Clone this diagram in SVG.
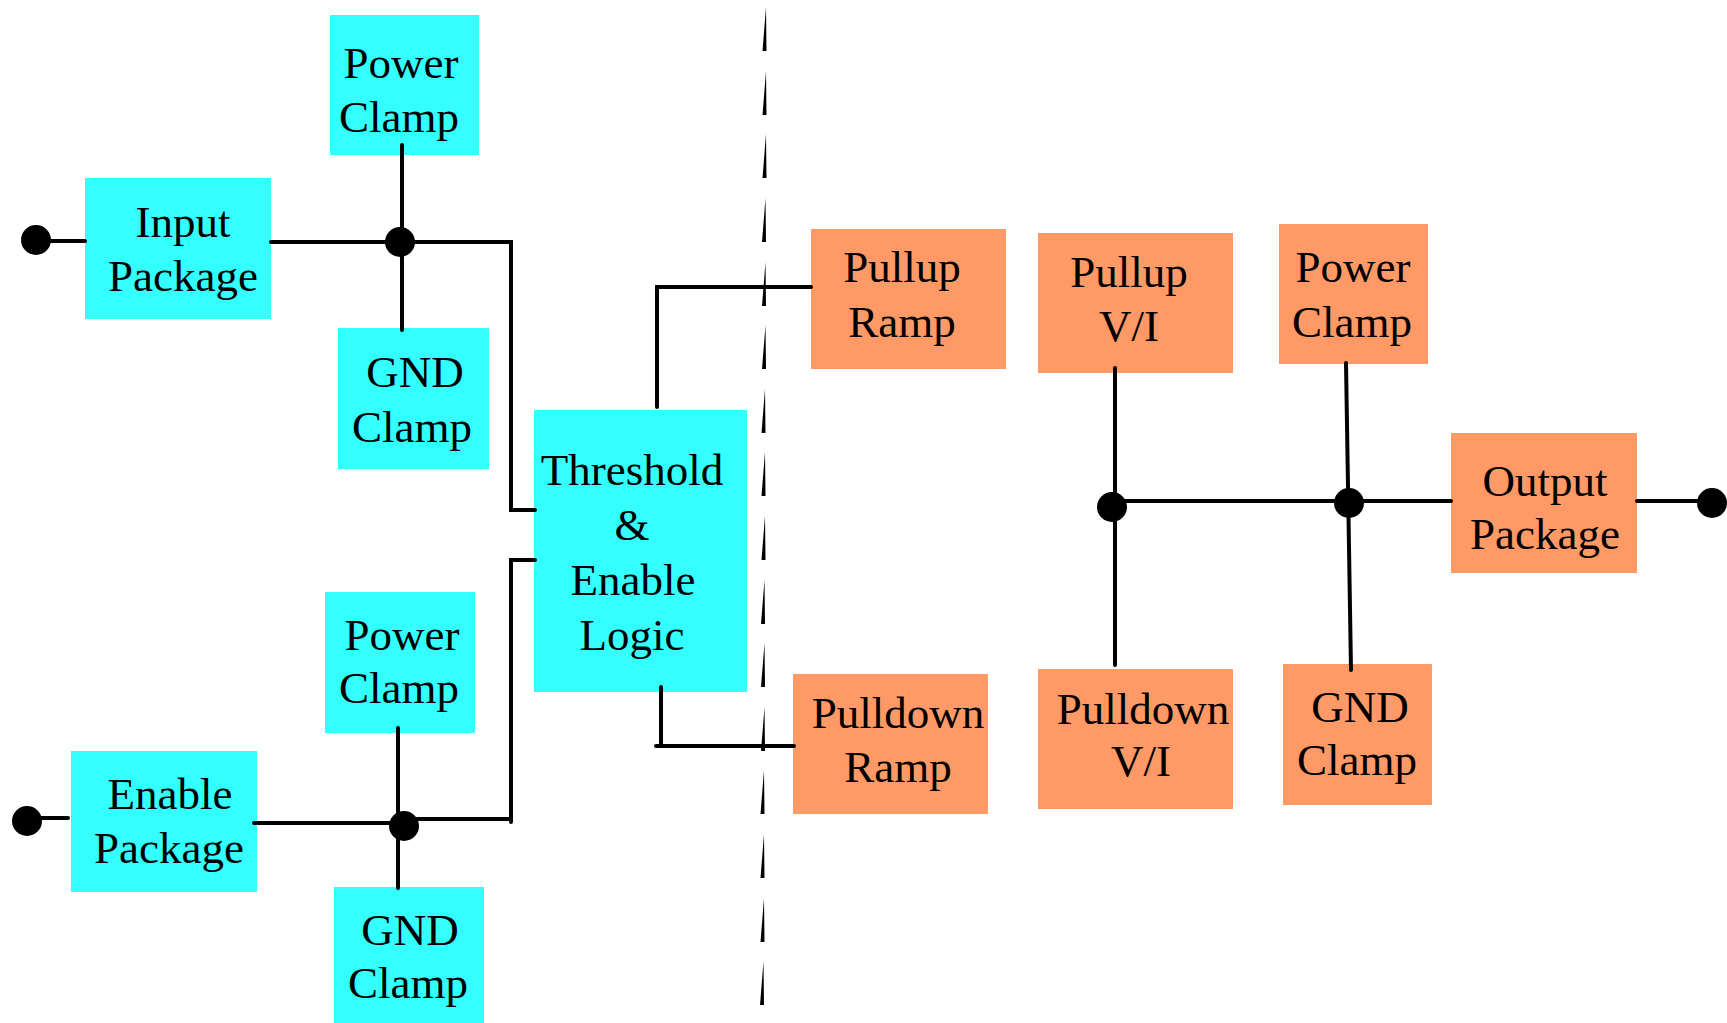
<svg xmlns="http://www.w3.org/2000/svg" width="1727" height="1023" viewBox="0 0 1727 1023">
<style>
.c{fill:#33FFFF}
.o{fill:#FF9966}
text{font-family:"Liberation Serif","Times New Roman",serif;font-size:45px;fill:#000;text-anchor:middle}
.w{stroke:#000;stroke-width:4;fill:none;stroke-linecap:round;stroke-linejoin:miter}
.d{fill:#000}
</style>
<rect width="1727" height="1023" fill="#fff"/>
<g id="pc1"><rect class="c" x="330" y="15" width="149" height="140"/><text x="401" y="78">Power</text><text x="399" y="132">Clamp</text></g>
<g id="ip"><rect class="c" x="85" y="178" width="186" height="141"/><text x="183" y="237">Input</text><text x="183" y="291">Package</text></g>
<g id="gc1"><rect class="c" x="338" y="328" width="151" height="141"/><text x="415" y="387">GND</text><text x="412" y="442">Clamp</text></g>
<g id="th"><rect class="c" x="534" y="410" width="213" height="282"/><text x="632" y="485">Threshold</text><text x="632" y="540">&amp;</text><text x="633" y="595">Enable</text><text x="632" y="650">Logic</text></g>
<g id="pc2"><rect class="c" x="325" y="592" width="150" height="141"/><text x="402" y="650">Power</text><text x="399" y="703">Clamp</text></g>
<g id="ep"><rect class="c" x="71" y="751" width="186" height="141"/><text x="170" y="809">Enable</text><text x="169" y="863">Package</text></g>
<g id="gc2"><rect class="c" x="334" y="887" width="150" height="136"/><text x="410" y="945">GND</text><text x="408" y="998">Clamp</text></g>
<g id="pr"><rect class="o" x="811" y="229" width="195" height="140"/><text x="902" y="282">Pullup</text><text x="902" y="337">Ramp</text></g>
<g id="pvi"><rect class="o" x="1038" y="233" width="195" height="140"/><text x="1129" y="287">Pullup</text><text x="1129" y="341">V/I</text></g>
<g id="pc3"><rect class="o" x="1279" y="224" width="149" height="140"/><text x="1353" y="282">Power</text><text x="1352" y="337">Clamp</text></g>
<g id="op"><rect class="o" x="1451" y="433" width="186" height="140"/><text x="1545" y="496">Output</text><text x="1545" y="549">Package</text></g>
<g id="pdr"><rect class="o" x="793" y="674" width="195" height="140"/><text x="898" y="728">Pulldown</text><text x="898" y="782">Ramp</text></g>
<g id="pdvi"><rect class="o" x="1038" y="669" width="195" height="140"/><text x="1143" y="724">Pulldown</text><text x="1141" y="776">V/I</text></g>
<g id="gc3"><rect class="o" x="1283" y="664" width="149" height="141"/><text x="1360" y="722">GND</text><text x="1357" y="775">Clamp</text></g>
<g id="connectors">
<path class="w" d="M36 241H85 M271 242H511V510H535 M402 145V330"/>
<path class="w" d="M27 818H68 M254 823H404 M404 819H511V560H535 M511 819V822 M398 728V888"/>
<path class="w" d="M657 407V287H811 M661 687V746 M656 746H794"/>
<path class="w" d="M1115 368V665 M1112 501H1451 M1346 363L1351 670 M1637 501H1712"/>
<circle class="d" cx="36" cy="240" r="15"/>
<circle class="d" cx="400" cy="242" r="15"/>
<circle class="d" cx="27" cy="821" r="15"/>
<circle class="d" cx="404" cy="826" r="15"/>
<circle class="d" cx="1112" cy="507" r="15"/>
<circle class="d" cx="1349" cy="503" r="15"/>
<circle class="d" cx="1712" cy="503" r="15"/>
</g>
<g id="divider">
<path class="d" d="M766 7L762.5 51H766.5Z M766 71L762.5 115H766.5Z M766 134L762.5 178H766.5Z M765.5 198L762 242H766Z M765.5 262L762 306H766Z M765.5 325L762 369H766Z M765 389L761.5 433H765.5Z M765 452L761.5 496H765.5Z M765 516L761.5 560H765.5Z M764.5 580L761 624H765Z M764.5 643L761 687H765Z M764.5 707L761 751H765Z M764 770L760.5 814H764.5Z M764 834L760.5 878H764.5Z M764 898L760.5 942H764.5Z M763.5 961L760 1005H764Z"/>
</g>
</svg>
